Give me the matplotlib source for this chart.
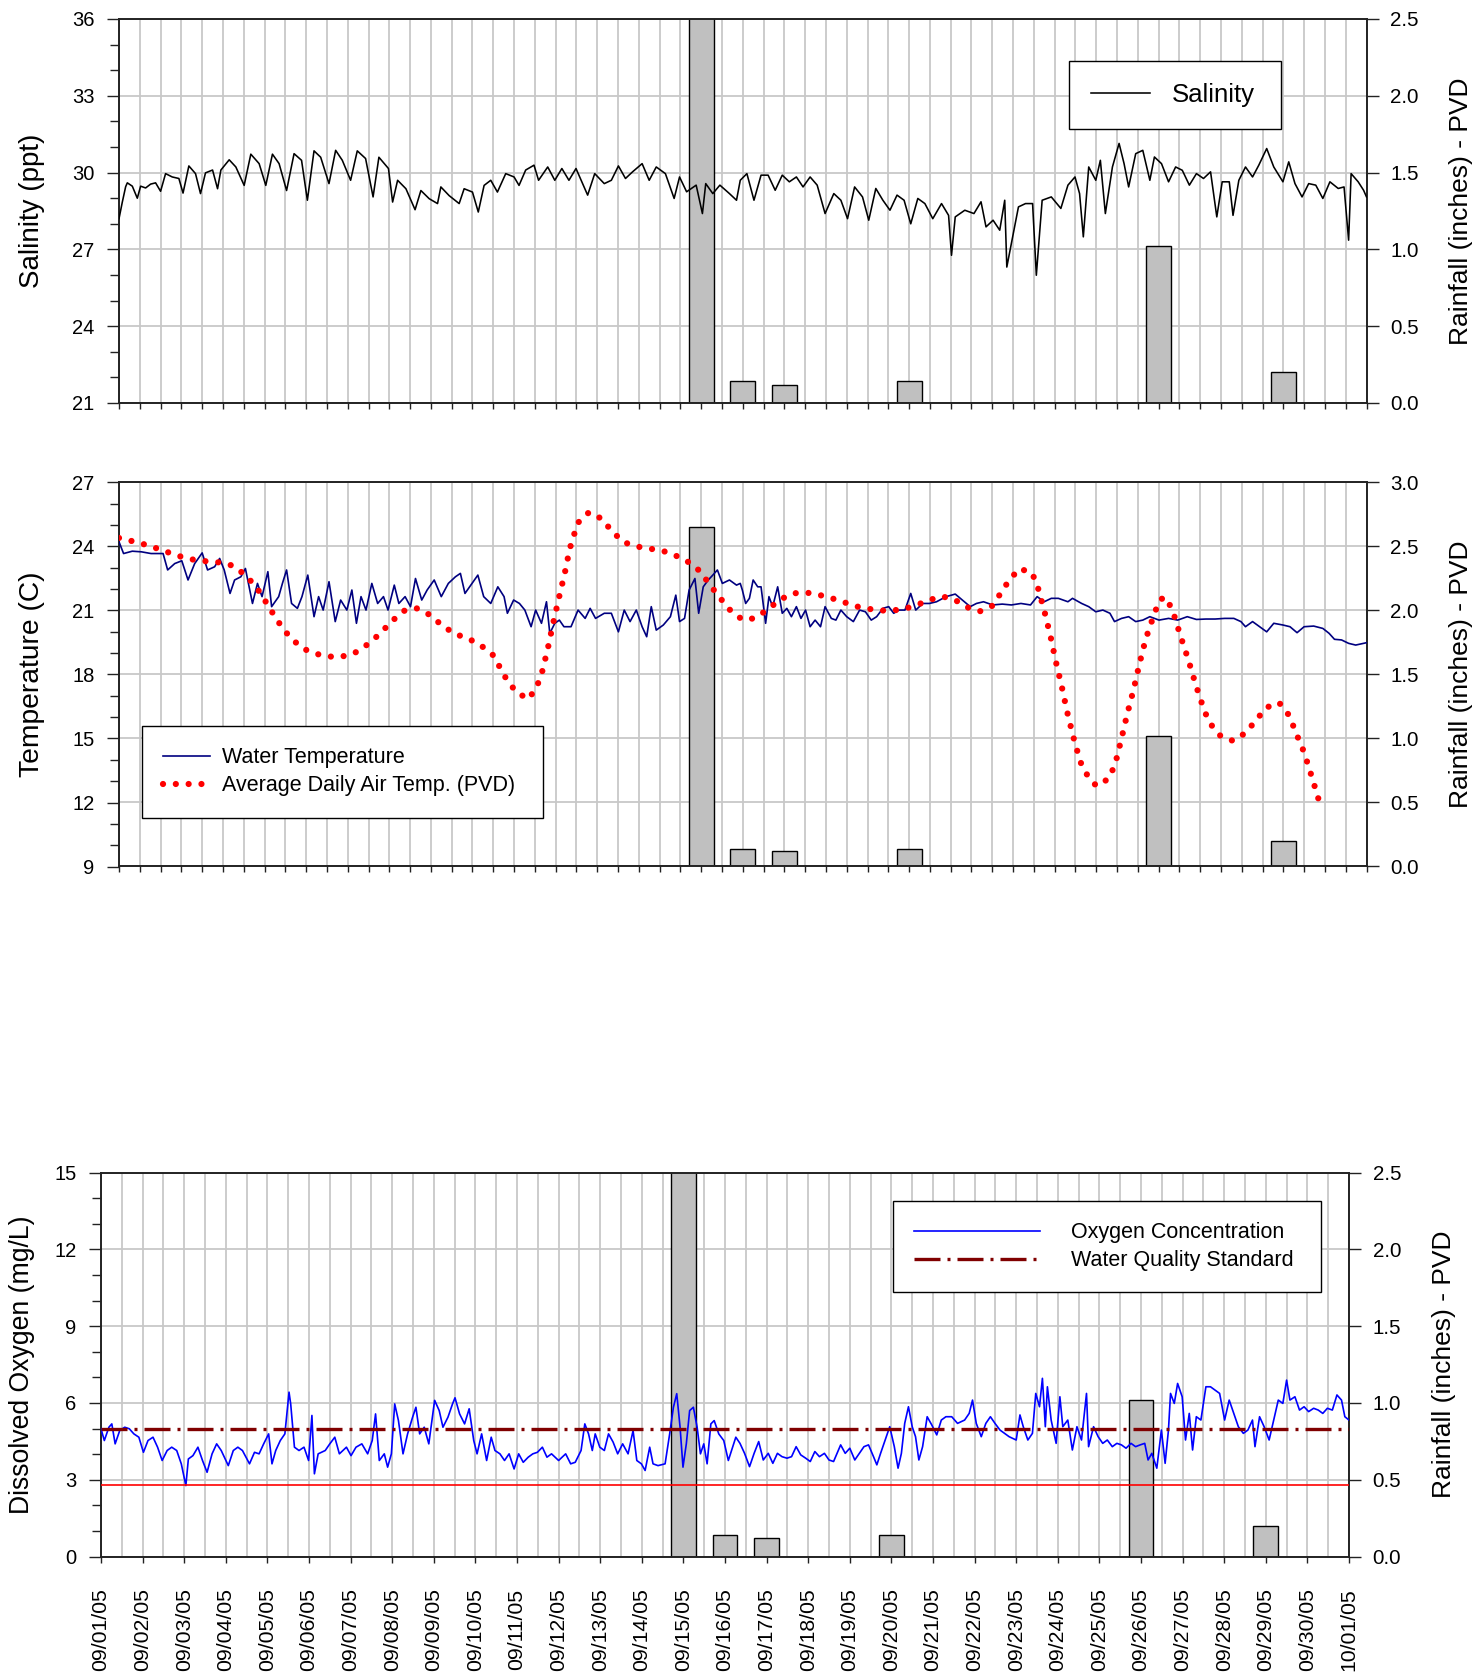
import datetime as dt
import numpy as np
import matplotlib
matplotlib.use("Agg")
import matplotlib.pyplot as plt
import matplotlib.dates as mdates
from matplotlib.ticker import MultipleLocator, FormatStrFormatter

plt.rcParams['font.family'] = ['Liberation Sans', 'DejaVu Sans']

# ---- data (time in days after 09/01/05 00:00) ----
sal_days = [0.00, 0.08, 0.16, 0.20, 0.32, 0.44, 0.52, 0.64, 0.76, 0.88,
            1.00, 1.12, 1.28, 1.44, 1.54, 1.68, 1.84, 1.96, 2.08, 2.25,
            2.37, 2.45, 2.65, 2.81, 3.01, 3.17, 3.37, 3.53, 3.69, 3.85,
            4.03, 4.21, 4.39, 4.53, 4.69, 4.85, 5.05, 5.21, 5.37, 5.57,
            5.73, 5.93, 6.11, 6.25, 6.48, 6.58, 6.70, 6.90, 7.12, 7.26,
            7.46, 7.66, 7.74, 7.94, 8.18, 8.30, 8.50, 8.64, 8.78, 8.94,
            9.10, 9.30, 9.50, 9.62, 9.78, 9.98, 10.09, 10.31, 10.48, 10.65,
            10.82, 10.99, 11.27, 11.44, 11.67, 11.84, 12.01, 12.18, 12.35, 12.58,
            12.75, 12.92, 13.14, 13.35, 13.48, 13.65, 13.88, 14.03, 14.11, 14.28,
            14.45, 14.68, 14.85, 14.94, 15.10, 15.27, 15.44, 15.61, 15.78, 15.95,
            16.12, 16.29, 16.45, 16.62, 16.79, 16.98, 17.19, 17.36, 17.52, 17.69,
            17.88, 18.03, 18.20, 18.37, 18.54, 18.71, 18.88, 19.04, 19.21, 19.38,
            19.57, 19.78, 19.95, 20.02, 20.11, 20.34, 20.56, 20.73, 20.85, 21.02,
            21.18, 21.30, 21.35, 21.46, 21.63, 21.80, 21.97, 22.06, 22.20, 22.42,
            22.65, 22.82, 22.99, 23.10, 23.19, 23.32, 23.49, 23.60, 23.72, 23.89,
            24.05, 24.17, 24.28, 24.45, 24.62, 24.79, 24.90, 25.07, 25.24, 25.41,
            25.57, 25.74, 25.91, 26.08, 26.25, 26.40, 26.53, 26.70, 26.79, 26.93,
            27.09, 27.26, 27.41, 27.60, 27.77, 27.99, 28.13, 28.28, 28.45, 28.61,
            28.78, 28.95, 29.12, 29.32, 29.46, 29.57, 29.63, 29.80, 29.93, 30.00]
sal_vals = [28.2, 28.85, 29.45, 29.6, 29.47, 29.0, 29.47, 29.4, 29.55, 29.6,
            29.27, 29.96, 29.83, 29.77, 29.2, 30.26, 29.96, 29.18, 29.99, 30.1,
            29.37, 30.1, 30.5, 30.22, 29.5, 30.72, 30.35, 29.5, 30.72, 30.35,
            29.3, 30.74, 30.48, 28.92, 30.85, 30.6, 29.57, 30.87, 30.48, 29.7,
            30.85, 30.55, 29.05, 30.6, 30.16, 28.85, 29.7, 29.37, 28.55, 29.3,
            28.98, 28.79, 29.44, 29.1, 28.79, 29.37, 29.24, 28.46, 29.5, 29.7,
            29.24, 29.96, 29.83, 29.5, 30.1, 30.29, 29.7, 30.22, 29.7, 30.16,
            29.7, 30.16, 29.12, 29.96, 29.57, 29.7, 30.26, 29.77, 30.03, 30.35,
            29.7, 30.22, 29.96, 28.99, 29.83, 29.25, 29.51, 28.4, 29.57, 29.18,
            29.51, 29.18, 28.92, 29.7, 29.96, 28.92, 29.9, 29.9, 29.31, 29.9,
            29.64, 29.83, 29.44, 29.83, 29.51, 28.4, 29.18, 28.92, 28.2, 29.44,
            29.05, 28.14, 29.38, 28.92, 28.53, 29.12, 28.92, 28.0, 28.99, 28.79,
            28.2, 28.79, 28.33, 26.77, 28.27, 28.53, 28.4, 28.86, 27.88, 28.14,
            27.75, 28.92, 26.31, 27.23, 28.66, 28.79, 28.79, 25.99, 28.92, 29.05,
            28.6, 29.51, 29.83, 29.18, 27.49, 30.22, 29.7, 30.48, 28.4, 30.22,
            31.14, 30.35, 29.44, 30.74, 30.87, 29.7, 30.61, 30.35, 29.64, 30.22,
            30.09, 29.51, 29.96, 29.77, 30.03, 28.27, 29.64, 29.64, 28.33, 29.7,
            30.22, 29.83, 30.29, 30.94, 30.22, 29.64, 30.42, 29.57, 29.05, 29.57,
            29.51, 28.99, 29.64, 29.38, 29.44, 27.36, 29.96, 29.64, 29.31, 29.05]

wt_days = [0.00, 0.11, 0.32, 0.54, 0.77, 1.06, 1.17, 1.34, 1.51, 1.66,
           1.82, 2.00, 2.13, 2.30, 2.42, 2.53, 2.67, 2.78, 2.93, 3.04,
           3.21, 3.33, 3.44, 3.58, 3.67, 3.84, 3.93, 4.03, 4.15, 4.29,
           4.40, 4.54, 4.69, 4.80, 4.91, 5.05, 5.20, 5.33, 5.48, 5.60,
           5.71, 5.82, 5.94, 6.08, 6.22, 6.36, 6.47, 6.62, 6.73, 6.88,
           7.01, 7.13, 7.28, 7.41, 7.58, 7.75, 7.92, 8.09, 8.21, 8.32,
           8.49, 8.63, 8.77, 8.94, 9.11, 9.26, 9.34, 9.49, 9.63, 9.76,
           9.91, 10.02, 10.16, 10.28, 10.36, 10.48, 10.59, 10.70, 10.87, 11.04,
           11.21, 11.33, 11.46, 11.67, 11.84, 12.01, 12.15, 12.29, 12.44, 12.58,
           12.69, 12.80, 12.92, 13.09, 13.26, 13.39, 13.48, 13.60, 13.71, 13.85,
           13.94, 14.05, 14.17, 14.28, 14.39, 14.51, 14.68, 14.85, 14.94, 14.99,
           15.07, 15.16, 15.25, 15.36, 15.44, 15.55, 15.63, 15.72, 15.84, 15.95,
           16.06, 16.17, 16.29, 16.40, 16.51, 16.62, 16.74, 16.87, 16.98, 17.13,
           17.24, 17.36, 17.50, 17.66, 17.81, 17.95, 18.09, 18.22, 18.37, 18.51,
           18.63, 18.76, 18.90, 19.04, 19.16, 19.33, 19.49, 19.66, 19.89, 20.11,
           20.28, 20.47, 20.62, 20.79, 21.01, 21.24, 21.46, 21.69, 21.92, 22.08,
           22.25, 22.42, 22.59, 22.82, 22.93, 23.15, 23.32, 23.49, 23.66, 23.83,
           23.94, 24.11, 24.28, 24.45, 24.62, 24.79, 25.01, 25.24, 25.46, 25.69,
           25.91, 26.14, 26.36, 26.59, 26.81, 26.98, 27.09, 27.26, 27.43, 27.60,
           27.77, 27.99, 28.16, 28.33, 28.50, 28.73, 28.95, 29.10, 29.23, 29.40,
           29.57, 29.74, 30.00]
wt_vals = [24.22, 23.67, 23.78, 23.75, 23.67, 23.67, 22.9, 23.2, 23.33, 22.43,
           23.2, 23.7, 22.9, 23.05, 23.44, 22.9, 21.8, 22.43, 22.58, 22.97,
           21.33, 22.27, 21.65, 22.82, 21.18, 21.65, 22.27, 22.9, 21.33, 21.1,
           21.65, 22.66, 20.71, 21.65, 21.02, 22.35, 20.48, 21.49, 21.02, 21.96,
           20.4, 21.65, 21.02, 22.27, 21.33, 21.65, 21.02, 22.19, 21.33, 21.65,
           21.18, 22.5, 21.49, 21.96, 22.43, 21.65, 22.27, 22.58, 22.74, 21.8,
           22.27, 22.66, 21.65, 21.33, 22.11, 21.65, 20.87, 21.49, 21.33, 21.02,
           20.24, 21.02, 20.4, 21.41, 19.93, 20.4, 20.55, 20.24, 20.24, 21.02,
           20.63, 21.1, 20.63, 20.87, 20.87, 20.0, 21.02, 20.48, 21.02, 20.24,
           19.77, 21.18, 20.08, 20.32, 20.71, 21.72, 20.48, 20.63, 21.96, 22.5,
           20.87, 22.11, 22.43, 22.66, 22.9, 22.27, 22.43, 22.19, 22.27, 21.96,
           21.33, 21.57, 22.43, 22.11, 22.11, 20.4, 21.65, 21.18, 22.11, 20.87,
           21.1, 20.71, 21.18, 20.63, 21.02, 20.24, 20.55, 20.24, 21.18, 20.63,
           20.55, 21.02, 20.71, 20.48, 21.02, 20.94, 20.55, 20.71, 21.1, 21.18,
           20.87, 21.02, 21.02, 21.8, 21.02, 21.33, 21.33, 21.41, 21.65, 21.77,
           21.49, 21.18, 21.33, 21.41, 21.26, 21.3, 21.26, 21.33, 21.26, 21.65,
           21.41, 21.57, 21.57, 21.41, 21.57, 21.33, 21.18, 20.94, 21.02, 20.87,
           20.48, 20.63, 20.71, 20.48, 20.55, 20.71, 20.55, 20.63, 20.55, 20.71,
           20.58, 20.6, 20.6, 20.63, 20.63, 20.48, 20.24, 20.48, 20.24, 20.0,
           20.4, 20.32, 20.24, 19.96, 20.24, 20.27, 20.16, 19.93, 19.65, 19.62,
           19.46, 19.38, 19.49]

air_days = [0.00, 0.32, 0.61, 0.93, 1.22, 1.53, 1.84, 2.13, 2.44, 2.74,
            3.04, 3.30, 3.50, 3.69, 3.89, 4.13, 4.44, 4.76, 5.05, 5.36,
            5.66, 5.97, 6.27, 6.56, 6.87, 7.16, 7.47, 7.77, 8.08, 8.38,
            8.68, 9.00, 9.17, 9.34, 9.57, 9.85, 10.04, 10.16, 10.31, 10.44,
            10.58, 10.72, 10.84, 11.03, 11.30, 11.61, 11.86, 12.14, 12.45, 12.76,
            13.07, 13.36, 13.67, 13.97, 14.21, 14.43, 14.68, 14.99, 15.27, 15.57,
            15.89, 16.20, 16.50, 16.80, 17.10, 17.42, 17.71, 18.02, 18.30, 18.60,
            18.90, 19.20, 19.50, 19.80, 20.10, 20.40, 20.70, 21.00, 21.20, 21.40,
            21.65, 21.95, 22.08, 22.25, 22.40, 22.53, 22.67, 22.80, 22.95, 23.12,
            23.28, 23.50, 23.79, 23.95, 24.10, 24.24, 24.40, 24.54, 24.69, 24.90,
            25.03, 25.16, 25.33, 25.52, 25.72, 25.90, 26.10, 26.24, 26.49, 26.79,
            27.09, 27.35, 27.59, 27.90, 28.12, 28.25, 28.37, 28.50, 28.69, 28.87,
            28.96]
air_vals = [24.4, 24.25, 24.1, 23.9, 23.7, 23.5, 23.36, 23.3, 23.25, 23.1,
            22.66, 22.1, 21.5, 20.9, 20.3, 19.7, 19.2, 18.96, 18.84, 18.84,
            19.0, 19.4, 19.9, 20.5, 21.0, 21.1, 20.8, 20.3, 19.9, 19.7,
            19.4, 18.9, 18.3, 17.7, 17.15, 16.85, 17.4, 18.0, 19.2, 20.4,
            21.6, 22.75, 23.9, 25.1, 25.6, 25.3, 24.7, 24.2, 24.0, 23.9,
            23.8, 23.6, 23.3, 22.85, 22.2, 21.65, 21.05, 20.57, 20.63, 21.0,
            21.5, 21.8, 21.85, 21.75, 21.6, 21.4, 21.2, 21.08, 21.0, 21.0,
            21.08, 21.27, 21.5, 21.66, 21.5, 21.15, 20.96, 21.22, 21.8, 22.4,
            22.96, 22.78, 22.2, 21.0, 19.8, 18.6, 17.45, 16.26, 15.07, 13.9,
            13.3, 12.78, 13.1, 13.75, 14.93, 16.1, 17.3, 18.5, 19.66, 20.86,
            21.5, 21.63, 21.05, 19.85, 18.66, 17.48, 16.3, 15.7, 15.12, 14.89,
            15.26, 15.87, 16.45, 16.68, 16.13, 15.54, 14.95, 14.35, 13.17, 12.0,
            11.95]

do_days = [0.00, 0.08, 0.19, 0.26, 0.34, 0.45, 0.57, 0.68, 0.79, 0.91,
           1.02, 1.13, 1.25, 1.36, 1.47, 1.59, 1.70, 1.82, 1.93, 2.04,
           2.10, 2.21, 2.33, 2.44, 2.55, 2.67, 2.78, 2.89, 3.06, 3.18,
           3.29, 3.40, 3.57, 3.69, 3.80, 3.91, 4.03, 4.11, 4.20, 4.31,
           4.42, 4.52, 4.56, 4.65, 4.76, 4.88, 4.99, 5.07, 5.13, 5.22,
           5.39, 5.50, 5.62, 5.73, 5.90, 6.01, 6.13, 6.27, 6.41, 6.52,
           6.60, 6.69, 6.81, 6.89, 6.98, 7.06, 7.15, 7.26, 7.37, 7.49,
           7.57, 7.66, 7.77, 7.88, 8.02, 8.13, 8.22, 8.34, 8.45, 8.51,
           8.62, 8.74, 8.85, 8.96, 9.04, 9.15, 9.27, 9.38, 9.47, 9.59,
           9.70, 9.81, 9.93, 10.04, 10.15, 10.27, 10.38, 10.49, 10.61, 10.72,
           10.83, 11.00, 11.17, 11.29, 11.40, 11.54, 11.63, 11.72, 11.81, 11.88,
           11.99, 12.10, 12.20, 12.31, 12.42, 12.54, 12.67, 12.79, 12.88, 12.99,
           13.08, 13.19, 13.27, 13.39, 13.56, 13.67, 13.76, 13.84, 13.92, 13.99,
           14.07, 14.15, 14.24, 14.33, 14.41, 14.49, 14.57, 14.66, 14.74, 14.85,
           14.97, 15.08, 15.26, 15.36, 15.47, 15.59, 15.70, 15.81, 15.92, 16.04,
           16.15, 16.26, 16.37, 16.49, 16.60, 16.71, 16.82, 16.94, 17.05, 17.16,
           17.27, 17.39, 17.50, 17.61, 17.78, 17.89, 18.00, 18.12, 18.23, 18.34,
           18.45, 18.57, 18.65, 18.74, 18.85, 18.96, 19.07, 19.16, 19.24, 19.32,
           19.41, 19.50, 19.58, 19.66, 19.75, 19.86, 19.97, 20.09, 20.20, 20.31,
           20.45, 20.59, 20.76, 20.87, 20.95, 21.04, 21.16, 21.27, 21.38, 21.49,
           21.61, 21.72, 21.83, 22.00, 22.09, 22.17, 22.28, 22.39, 22.47, 22.56,
           22.63, 22.70, 22.75, 22.84, 22.96, 23.05, 23.12, 23.24, 23.35, 23.46,
           23.57, 23.69, 23.74, 23.86, 23.97, 24.08, 24.19, 24.31, 24.42, 24.53,
           24.64, 24.76, 24.87, 24.98, 25.09, 25.17, 25.26, 25.38, 25.49, 25.58,
           25.66, 25.71, 25.80, 25.88, 25.99, 26.07, 26.16, 26.24, 26.33, 26.44,
           26.56, 26.67, 26.78, 26.89, 27.01, 27.12, 27.23, 27.34, 27.46, 27.57,
           27.68, 27.74, 27.85, 27.96, 28.08, 28.19, 28.30, 28.41, 28.50, 28.58,
           28.70, 28.81, 28.92, 29.03, 29.15, 29.26, 29.37, 29.48, 29.60, 29.71,
           29.82, 29.90, 30.00]
do_vals = [4.99, 4.53, 5.05, 5.18, 4.4, 4.92, 5.05, 4.99, 4.79, 4.66,
           4.07, 4.53, 4.66, 4.27, 3.75, 4.14, 4.27, 4.14, 3.62, 2.77,
           3.81, 3.94, 4.27, 3.75, 3.29, 4.01, 4.4, 4.14, 3.55, 4.14,
           4.27, 4.14, 3.62, 4.07, 4.01, 4.4, 4.79, 3.62, 4.14, 4.53,
           4.79, 6.42, 5.96, 4.27, 4.14, 4.27, 3.75, 5.51, 3.23, 4.01,
           4.14, 4.4, 4.66, 4.01, 4.27, 3.94, 4.27, 4.4, 4.01, 4.53,
           5.57, 3.75, 4.01, 3.49, 4.01, 5.96, 5.31, 4.01, 4.79, 5.44,
           5.83, 4.79, 5.05, 4.4, 6.1, 5.7, 5.05, 5.44, 5.96, 6.2,
           5.57, 5.18, 5.77, 4.53, 4.01, 4.79, 3.75, 4.66, 4.14, 4.01,
           3.75, 4.01, 3.42, 4.01, 3.68, 3.88, 4.01, 4.07, 4.27, 3.88,
           4.01, 3.75, 4.01, 3.62, 3.68, 4.14, 5.18, 4.79, 4.14, 4.79,
           4.27, 4.14, 4.79, 4.47, 4.01, 4.4, 4.01, 4.92, 3.75, 3.62,
           3.36, 4.27, 3.62, 3.55, 3.62, 4.79, 5.83, 6.36, 5.05, 3.49,
           4.4, 5.7, 5.83, 5.05, 4.01, 4.4, 3.62, 5.18, 5.31, 4.79,
           4.53, 3.75, 4.66, 4.42, 4.03, 3.51, 4.03, 4.49, 3.77, 4.03,
           3.64, 4.03, 3.9, 3.84, 3.9, 4.29, 3.97, 3.84, 3.71, 4.1,
           3.9, 4.03, 3.77, 3.71, 4.36, 4.03, 4.23, 3.77, 4.03, 4.29,
           4.36, 3.9, 3.58, 4.03, 4.55, 5.07, 4.29, 3.45, 4.03, 5.2,
           5.85, 5.07, 4.68, 3.77, 4.29, 5.46, 5.14, 4.75, 5.33, 5.46,
           5.46, 5.2, 5.33, 5.59, 6.11, 5.2, 4.68, 5.2, 5.46, 5.2,
           4.94, 4.81, 4.68, 4.55, 5.53, 5.07, 4.55, 4.81, 6.37, 5.85,
           6.96, 5.07, 6.63, 5.33, 4.42, 6.24, 5.07, 5.33, 4.16, 5.07,
           4.55, 6.37, 4.29, 5.07, 4.68, 4.42, 4.55, 4.29, 4.42, 4.36,
           4.23, 4.42, 4.29, 4.36, 4.42, 3.77, 4.03, 3.45, 4.94, 3.64,
           4.94, 6.37, 5.98, 6.76, 6.24, 4.55, 5.59, 4.16, 5.46, 5.33,
           6.63, 6.63, 6.5, 6.37, 5.33, 6.11, 5.59, 5.07, 4.81, 4.94,
           5.33, 4.29, 5.46, 5.07, 4.55, 5.33, 6.11, 5.98, 6.89, 6.11,
           6.24, 5.72, 5.85, 5.66, 5.79, 5.72, 5.59, 5.79, 5.72, 6.31,
           6.11, 5.46, 5.33]

rain_dates = ['2005-09-15', '2005-09-16', '2005-09-17', '2005-09-20', '2005-09-26', '2005-09-29']
rain_in = [2.65, 0.14, 0.12, 0.14, 1.02, 0.20]

wq_standard = 5.0
do_limit = 2.8

# ---- helpers ----
t0 = mdates.date2num(dt.datetime(2005, 9, 1))
t1 = mdates.date2num(dt.datetime(2005, 10, 1))


def tnum(days):
    return t0 + np.asarray(days, dtype=float)


rain_x = mdates.datestr2num(rain_dates)

W, H = 1474, 1676
fig = plt.figure(figsize=(W / 100, H / 100), dpi=100)

SPINE = '#222222'
GRID = '#c8c8c8'


def panel(left_px, top_px, width_px, height_px, rain_top, bottom_labels, rlabel_size):
    rect = [left_px / W, 1 - (top_px + height_px) / H, width_px / W, height_px / H]
    ax_r = fig.add_axes(rect)
    ax = fig.add_axes(rect, sharex=ax_r)
    ax.patch.set_visible(False)
    for s in ax.spines.values():
        s.set_visible(False)
    for s in ax_r.spines.values():
        s.set_color(SPINE)
        s.set_linewidth(1.4)
    ax.xaxis.set_visible(False)

    # rain bars + grid on the back axes
    ax_r.set_axisbelow(True)
    ax_r.bar(rain_x, rain_in, width=0.6, color='#c0c0c0', edgecolor='black', linewidth=1.0, zorder=2)
    ax_r.set_ylim(0, rain_top)
    ax_r.yaxis.set_major_locator(MultipleLocator(0.5))
    ax_r.yaxis.set_major_formatter(FormatStrFormatter('%.1f'))
    ax_r.yaxis.tick_right()
    ax_r.yaxis.set_label_position('right')
    ax_r.set_xlim(t0, t1)
    if bottom_labels:
        ax_r.xaxis.set_major_locator(mdates.DayLocator())
        ax_r.xaxis.set_minor_locator(mdates.HourLocator(byhour=[12]))
        ax_r.xaxis.set_major_formatter(mdates.DateFormatter('%m/%d/%y'))
        ax_r.tick_params(axis='x', which='major', direction='out', length=4.5, width=1,
                         labelsize=15.3, labelrotation=90, pad=18.5, color=SPINE)
        ax_r.tick_params(axis='x', which='minor', length=0)
        ax_r.grid(True, axis='x', which='both', color=GRID, linewidth=1.3)
    else:
        ax_r.xaxis.set_major_locator(mdates.HourLocator(byhour=[0, 12]))
        ax_r.tick_params(axis='x', which='major', direction='out', length=4.5, width=1,
                         labelbottom=False, color=SPINE)
        ax_r.grid(True, axis='x', which='major', color=GRID, linewidth=1.3)
    ax_r.grid(True, axis='y', which='major', color=GRID, linewidth=1.3)
    ax_r.tick_params(axis='y', which='major', direction='out', length=8.5, width=1,
                     labelsize=14.8, pad=8.5, color=SPINE)
    ax_r.set_ylabel('Rainfall (inches) - PVD', fontsize=rlabel_size)
    ax_r.yaxis.label.set_va('center')

    ax.yaxis.tick_left()
    ax.yaxis.set_minor_locator(MultipleLocator(1))
    ax.yaxis.set_major_locator(MultipleLocator(3))
    ax.tick_params(axis='y', which='major', direction='out', length=9, width=1,
                   labelsize=14.5, pad=8.5, color=SPINE)
    ax.tick_params(axis='y', which='minor', direction='out', length=6.5, width=1, color=SPINE)
    return ax, ax_r


def box_legend(ax, x0, y_top, width, size, **kw):
    leg = ax.legend(loc='upper left', bbox_to_anchor=(x0, y_top - 0.2, width, 0.2),
                    mode='expand', borderaxespad=0, fontsize=size,
                    fancybox=False, framealpha=1, edgecolor='black', **kw)
    leg.get_frame().set_linewidth(1.0)
    return leg


# ---- top: salinity ----
ax1, ax1r = panel(119, 19, 1247.5, 384, 2.5, False, 19.0)
ax1.plot(tnum(sal_days), sal_vals, color='black', linewidth=1.15, label='Salinity')
ax1.set_ylim(21, 36)
ax1.set_ylabel('Salinity (ppt)', fontsize=20)
ax1.yaxis.label.set_va('center')
ax1.yaxis.set_label_coords(-0.0701, 0.5)
ax1r.yaxis.set_label_coords(1.0758, 0.5)
box_legend(ax1, 0.7615, 0.891, 0.170, 18.5, handlelength=2.3, handletextpad=0.86,
           borderpad=0.86)

# ---- middle: temperature ----
ax2, ax2r = panel(119, 482.5, 1247.5, 384, 3.0, False, 19.0)
ax2.plot(tnum(wt_days), wt_vals, color='#000080', linewidth=1.2, label='Water Temperature')
ax2.plot(tnum(air_days), air_vals, color='red', linewidth=4.5, linestyle=(0, (0.001, 2.05)),
         dash_capstyle='round', label='Average Daily Air Temp. (PVD)')
ax2.set_ylim(9, 27)
ax2.set_ylabel('Temperature (C)', fontsize=20.3)
ax2.yaxis.label.set_va('center')
ax2.yaxis.set_label_coords(-0.0701, 0.5)
ax2r.yaxis.set_label_coords(1.0758, 0.5)
box_legend(ax2, 0.0184, 0.3664, 0.3218, 15.5, handlelength=2.15, handletextpad=0.57,
           borderpad=1.0, labelspacing=0.32)

# ---- bottom: dissolved oxygen ----
ax3, ax3r = panel(101, 1172.5, 1248, 384, 2.5, True, 19.0)
ax3.plot(tnum(do_days), do_vals, color='#0000ff', linewidth=1.2, label='Oxygen Concentration')
ax3.axhline(wq_standard, color='#800000', linewidth=2.4, linestyle=(0, (7.8, 2.1, 0.9, 2.1)),
            label='Water Quality Standard')
ax3.axhline(do_limit, color='#ff0000', linewidth=1.2)
ax3.set_ylim(0, 15)
ax3.set_ylabel('Dissolved Oxygen (mg/L)', fontsize=19.2)
ax3.yaxis.label.set_va('center')
ax3.yaxis.set_label_coords(-0.0633, 0.5)
ax3r.yaxis.set_label_coords(1.0765, 0.5)
box_legend(ax3, 0.6343, 0.925, 0.3429, 15.5, handlelength=5.85, handletextpad=1.44,
           borderpad=0.98, labelspacing=0.32)

fig.savefig('out.png', dpi=100)
